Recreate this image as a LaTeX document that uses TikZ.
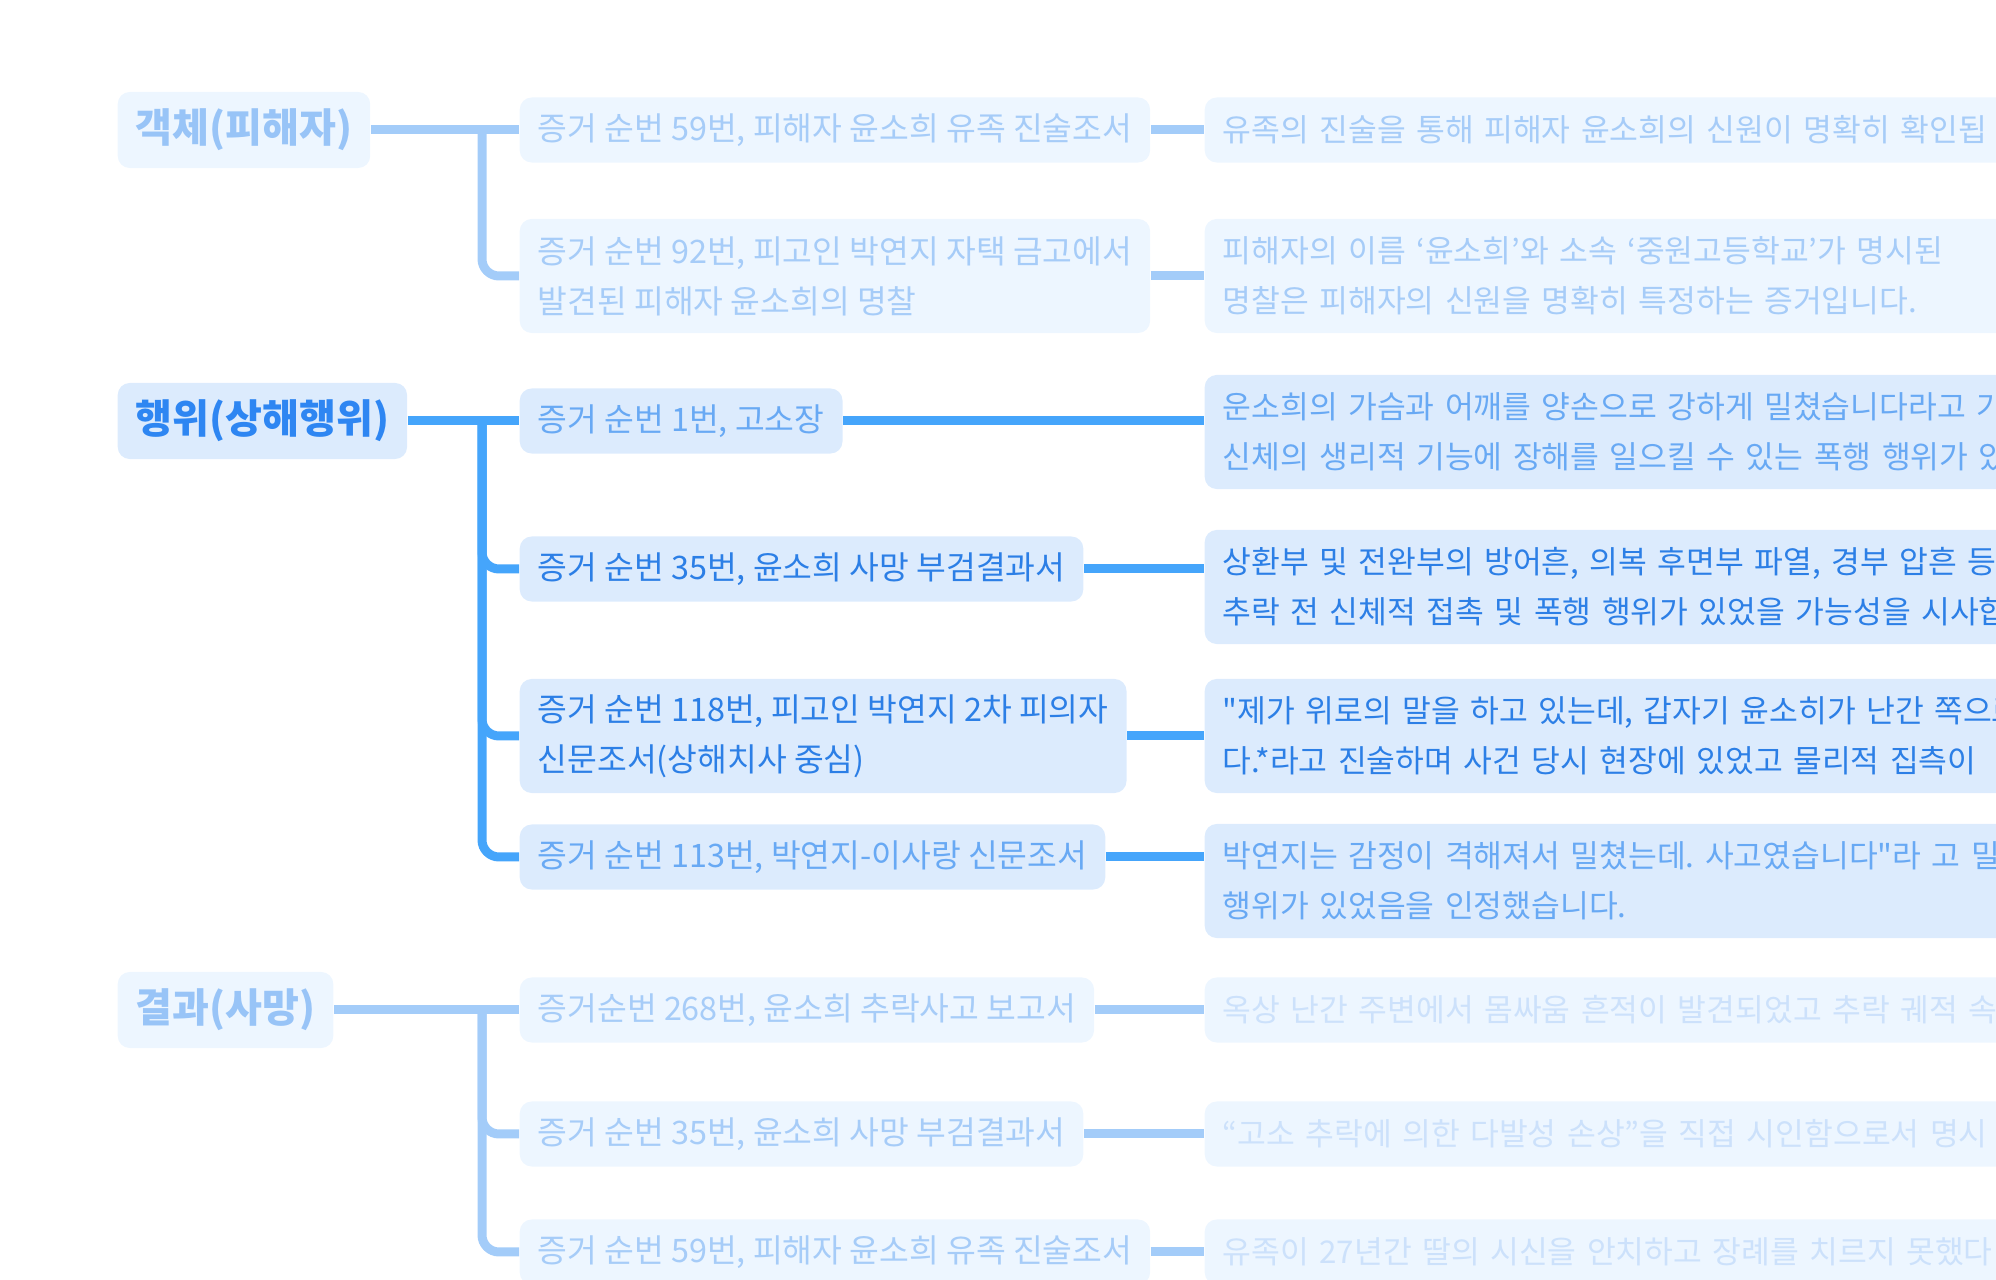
\documentclass[tikz,border=0pt]{standalone}
\usepackage{fontspec}
\setmainfont{Noto Sans CJK KR}[Ligatures=TeXOff]
\frenchspacing

\definecolor{boxfill}{HTML}{DCEBFD}
\definecolor{linemain}{HTML}{45A5FB}
\definecolor{headtext}{HTML}{2E86F2}
\definecolor{darktext}{HTML}{2C7FE6}
\definecolor{lighttext}{HTML}{68A9F4}
\definecolor{fadefill}{HTML}{EDF6FF}
\definecolor{fadeline}{HTML}{A3CCF9}
\definecolor{fadetext}{HTML}{A6CCF8}
\definecolor{fadehead}{HTML}{98C4F7}
\definecolor{fainttext}{HTML}{CCE1FB}

\begin{document}
\begin{tikzpicture}[x=0.01cm, y=-0.01cm,
    card/.style={fill=boxfill, rounded corners=0.12cm, inner xsep=0.18cm, inner ysep=0.1cm, anchor=west, align=left},
    topic/.style={card, text=headtext, font=\bfseries\fontsize{11.4pt}{13pt}\selectfont, minimum height=0.76cm},
    evid/.style={card, font=\fontsize{9.2pt}{14.2pt}\selectfont, minimum height=0.65cm},
    evidtwo/.style={evid, minimum height=1.14cm},
    finding/.style={evid, font=\fontsize{8.9pt}{14.2pt}\selectfont, text width=14cm},
    findingtwo/.style={finding, minimum height=1.14cm},
    strong/.style={text=darktext},
    soft/.style={text=lighttext},
    faded/.style={fill=fadefill, text=fadetext},
    conn/.style={draw=linemain, line width=0.09cm, rounded corners=0.17cm},
    fconn/.style={conn, draw=fadeline},
  ]
    \useasboundingbox (0,0) rectangle (1996,1280);
    \clip (0,0) rectangle (1996,1280);

    % ==== OBJECT (VICTIM) ====
    \node[topic, faded, text=fadehead] (obj) at (117,130) {객체(피해자)};
    \node[evid, faded] (obj-1) at (519,130) {증거 순번 59번, 피해자 윤소희 유족 진술조서};
    \node[evidtwo, faded] (obj-2) at (519,276) {증거 순번 92번, 피고인 박연지 자택 금고에서\\발견된 피해자 윤소희의 명찰};
    \node[finding, faded] (obj-1-r) at (1204,130) {유족의 진술을 통해 피해자 윤소희의 신원이 명확히 확인됩};
    \node[findingtwo, faded] (obj-2-r) at (1204,276) {피해자의 이름 ‘윤소희’와 소속 ‘중원고등학교’가 명시된\\명찰은 피해자의 신원을 명확히 특정하는 증거입니다.};
    \coordinate (obj-fork) at (482,130);

    % ==== ACT (INJURY) ====
    \node[topic] (act) at (117,421) {행위(상해행위)};
    \node[evid, soft] (act-1) at (519,421) {증거 순번 1번, 고소장};
    \node[evid, strong] (act-2) at (519,569) {증거 순번 35번, 윤소희 사망 부검결과서};
    \node[evidtwo, strong] (act-3) at (519,736) {증거 순번 118번, 피고인 박연지 2차 피의자\\신문조서(상해치사 중심)};
    \node[evid, soft] (act-4) at (519,857) {증거 순번 113번, 박연지-이사랑 신문조서};
    \node[findingtwo, soft] (act-1-r) at (1204,432) {운소희의 가슴과 어깨를 양손으로 강하게 밀쳤습니다라고 가\\신체의 생리적 기능에 장해를 일으킬 수 있는 폭행 행위가 있};
    \node[findingtwo, strong] (act-2-r) at (1204,587) {상환부 및 전완부의 방어흔, 의복 후면부 파열, 경부 압흔 등\\추락 전 신체적 접촉 및 폭행 행위가 있었을 가능성을 시사합};
    \node[findingtwo, strong] (act-3-r) at (1204,736) {"제가 위로의 말을 하고 있는데, 갑자기 윤소히가 난간 쪽으로\\다.*라고 진술하며 사건 당시 현장에 있었고 물리적 집측이};
    \node[findingtwo, soft] (act-4-r) at (1204,881) {박연지는 감정이 격해져서 밀쳤는데. 사고였습니다"라 고 밀\\행위가 있었음을 인정했습니다.};
    \coordinate (act-fork) at (482,421);

    % ==== RESULT (DEATH) ====
    \node[topic, faded, text=fadehead] (res) at (117,1010) {결과(사망)};
    \node[evid, faded] (res-1) at (519,1010) {증거순번 268번, 윤소희 추락사고 보고서};
    \node[evid, faded] (res-2) at (519,1134) {증거 순번 35번, 윤소희 사망 부검결과서};
    \node[evid, faded] (res-3) at (519,1252) {증거 순번 59번, 피해자 윤소희 유족 진술조서};
    \node[finding, faded, text=fainttext] (res-1-r) at (1204,1010) {옥상 난간 주변에서 몸싸움 흔적이 발견되었고 추락 궤적 속};
    \node[finding, faded, text=fainttext] (res-2-r) at (1204,1134) {“고소 추락에 의한 다발성 손상”을 직접 시인함으로서 명시};
    \node[finding, faded, text=fainttext] (res-3-r) at (1204,1252) {유족이 27년간 딸의 시신을 안치하고 장례를 치르지 못했다};
    \coordinate (res-fork) at (482,1010);

    % ==== CONNECTORS ====
    \draw[fconn] (obj.east) -- (obj-1.west);
    \draw[fconn] (obj-fork) |- (obj-2.west);
    \foreach \k in {1,2}{
        \draw[fconn] (obj-\k.east) -- (obj-\k.east -| obj-\k-r.west);
    }
    \draw[conn] (act.east) -- (act-1.west);
    \foreach \k in {2,3,4}{
        \draw[conn] (act-fork) |- (act-\k.west);
    }
    \foreach \k in {1,...,4}{
        \draw[conn] (act-\k.east) -- (act-\k.east -| act-\k-r.west);
    }
    \draw[fconn] (res.east) -- (res-1.west);
    \foreach \k in {2,3}{
        \draw[fconn] (res-fork) |- (res-\k.west);
    }
    \foreach \k in {1,2,3}{
        \draw[fconn] (res-\k.east) -- (res-\k.east -| res-\k-r.west);
    }
\end{tikzpicture}
\end{document}
